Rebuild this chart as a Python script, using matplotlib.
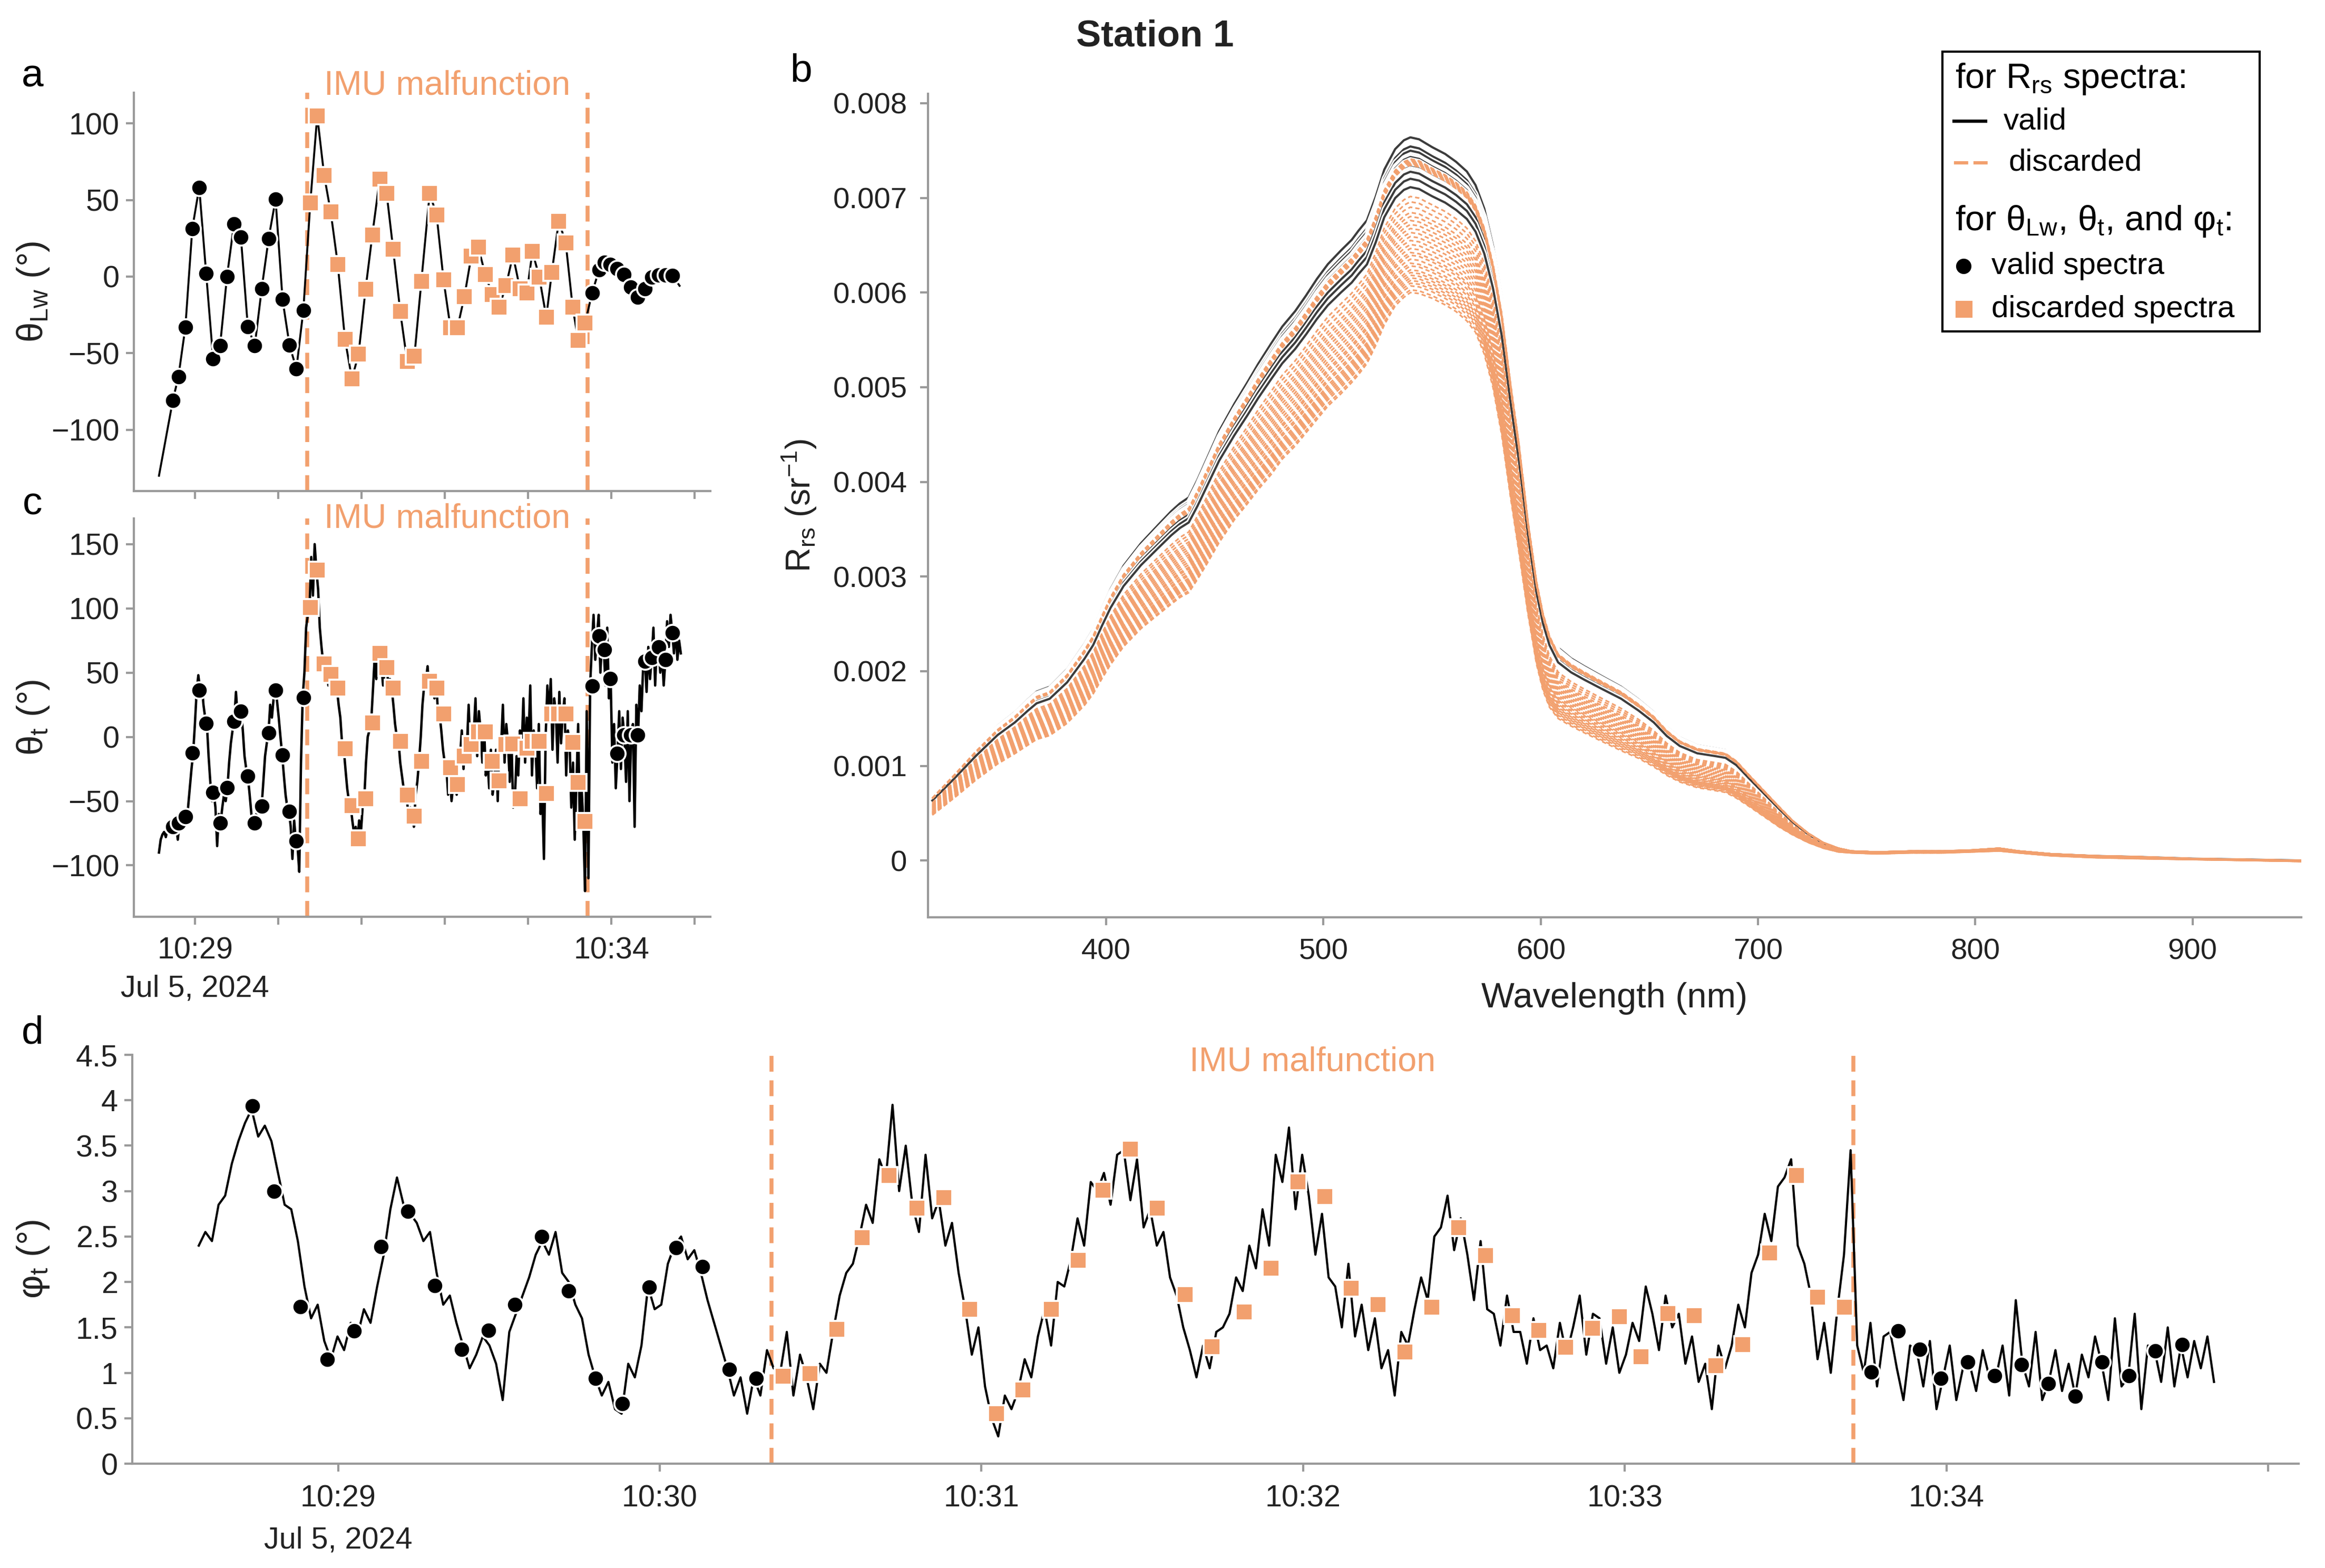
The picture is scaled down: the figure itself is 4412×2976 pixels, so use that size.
import numpy as np
import pandas as pd
import matplotlib
matplotlib.use('Agg')
import matplotlib.pyplot as plt
import matplotlib.dates as mdates
import matplotlib.patheffects as pe
from matplotlib.lines import Line2D
from matplotlib.patches import Rectangle
from matplotlib.ticker import FuncFormatter, MultipleLocator

plt.rcParams['font.family'] = ['Liberation Sans', 'DejaVu Sans']
plt.rcParams['mathtext.fontset'] = 'custom'
plt.rcParams['mathtext.rm'] = 'Liberation Sans'
plt.rcParams['mathtext.it'] = 'Liberation Sans:italic'
plt.rcParams['mathtext.default'] = 'regular'

ORANGE = '#F2A06E'
GREY = '#9a9a9a'
TXT = '#222222'

# ---- data -------------------------------------------------------------
# spectra acquisition times, seconds after 10:28:00 (Jul 5, 2024)
spec_time = [44, 48, 53, 58, 63, 68, 73, 78, 83, 88, 93, 98, 103, 108, 113,
             118, 123, 128, 133, 138,
             143, 148, 153, 157.7, 162.8, 168, 173, 177.8, 182.8, 187.7, 193,
             198, 202.7, 207.8, 212.8, 218, 223, 229, 234, 239, 244, 249, 254,
             259, 264, 269, 274, 279, 284, 289, 294, 299, 303, 308, 313, 317,
             322, 327, 332, 336, 341,
             346, 351, 355, 359, 364, 369, 374, 379, 384, 389, 394, 399, 404]
spec_status = list('VVVVVVVVVVVVVVVVVVVV'
                   'DDDDDDDDDDDDDDDDDDDDDDDDDDDDDDDDDDDDDDDDD'
                   'VVVVVVVVVVVVV')

theta_lw = [-80.7, -65.4, -33.1, 31.4, 58.1, 1.9, -53.6, -45.2, 0.0, 34.2,
            25.8, -32.7, -45.2, -7.9, 24.9, 50.5, -14.8, -44.7, -60.2, -21.9,
            48.2, 104.9, 66.0, 42.2, 8.0, -41.0, -66.7, -50.5, -8.4, 27.3,
            63.6, 54.4, 17.8, -22.8, -55.5, -52.1, -3.2, 54.4, 40.2, -2.2,
            -33.5, -33.5, -13.1, 13.3, 19.3, 1.5, -11.6, -20.0, -6.0, 14.0,
            -7.9, -10.7, 16.4, -0.4, -26.5, 2.8, 36.1, 22.1, -20.0, -41.5,
            -30.3,
            -10.7, 4.3, 9.3, 8.0, 5.2, 1.5, -6.9, -13.5, -7.9, -0.4, 0.9, 0.9,
            0.6]
theta_lw_start = (34, -130)
theta_lw_end = (409, -6)

theta_t = [-70, -67, -62, -12.3, 36.5, 10.4, -43.3, -67.2, -39.7, 12.3, 20,
           -30.7, -67.2, -54, 3.3, 36.5, -14.3, -58.1, -80.9, 30.7,
           100.6, 129.7, 57, 48.5, 37.8, -9, -53.5, -79.5, -48, 11, 65, 54,
           37.8, -3.3, -45.2, -61.7, -19.2, 43.3, 37.8, 17.8, -24.1, -37, -15,
           -6, 4.1, 4.1, -19.2, -34.3, -6, -5.5, -48, -8.8, -3.3, -3.3, -43.9,
           17.8, 17.8, 17.8, -4.1, -35.6, -65.8,
           39.7, 78.7, 68, 45.2, -12.9, 1.4, 1.4, 1.4, 59, 61.7, 70, 60.3,
           80.9]

phi_t = [3.94, 3.00, 1.73, 1.15, 1.46, 2.39, 2.78, 1.96, 1.26, 1.47, 1.75,
         2.50, 1.90, 0.94, 0.66, 1.94, 2.38, 2.17, 1.04, 0.94,
         0.96, 0.99, 1.48, 2.49, 3.17, 2.81, 2.93, 1.70, 0.55, 0.81, 1.70,
         2.24, 3.01, 3.46, 2.81, 1.86, 1.29, 1.67, 2.15, 3.10, 2.94, 1.93,
         1.75, 1.23, 1.72, 2.60, 2.29, 1.63, 1.47, 1.28, 1.49, 1.62, 1.18,
         1.65, 1.63, 1.08, 1.31, 2.32, 3.17, 1.83, 1.72,
         1.01, 1.46, 1.26, 0.94, 1.12, 0.97, 1.09, 0.88, 0.74, 1.12, 0.97,
         1.24, 1.31]

# raw IMU record (1.2325 s sampling starting 34 s after 10:28:00)
raw_t0 = 34.0
raw_dt = 1.2325
theta_t_raw = [-90, -80, -76, -74, -78, -72, -75, -71,
               -70, -73, -68, -80, -67, -65, -70, -63, -62, -55, -40, -25,
               -12, 10, 35, 48, 37, 42, 25, 15, 10, -15, -35, -50,
               -43, -55, -85, -60, -67, -55, -45, -50, -40, -20, -5, 5,
               12, 35, 15, 25, 20, 5, -15, -25, -31, -45, -60, -70,
               -67, -60, -55, -58, -54, -35, -15, -5, 3, 25, 15, 30,
               37, 28, 15, 0, -14, -30, -45, -55, -58, -70, -95, -65,
               -81, -85, -105, -20, 31, 50, 85, 95,
               100, 140, 110, 150, 130, 115, 85, 70, 57, 45, 60, 40,
               48, 55, 35, 50, 38, 25, 15, -5, -9, -25, -40, -50,
               -53, -65, -75, -70, -80, -65, -75, -55, -48, -20, 0, 5,
               11, 35, 60, 45, 65, 50, 55, 40, 54, 60, 40, 45,
               38, 25, 10, 0, -3, -20, -30, -40, -45, -50, -65, -55,
               -62, -70, -45, -35, -19, 0, 25, 40, 43, 55, 35, 45,
               38, 30, 45, 20, 18, 5, -10, -20, -24, -45, -30, -50,
               -37, -20, -45, -10, -15, 5, -25, 0, -6, 25, -10, 10,
               4, 30, -15, 20, 4, -20, 10, -30, -19, -40, -10, -45,
               -34, -10, -50, -5, -6, 25, -20, 10, -5, -35, 0, -55,
               -48, -15, -30, 5, -9, 30, -20, 15, -3, 40, -30, 5,
               -3, -40, 10, -60, -44, -95, 0, 40, 18, 45, -10, 30,
               18, -20, 35, -5, 18, 30, -30, 5, -4, -55, -20, -80,
               -36, 10, -70, -40, -66, -120, 20, -110,
               40, 70, 95, 60, 79, 95, 50, 75, 68, 40, 85, 30,
               45, -20, 10, -40, -13, 20, -25, 15, 1, -35, 20, -50,
               1, 10, -70, 25, 1, 40, 20, 55, 59, 35, 70, 45,
               62, 85, 40, 75, 70, 50, 65, 40, 60, 90, 70, 95,
               81, 65, 85, 60, 75, 65]

phi_t_raw = [2.40, 2.55, 2.45, 2.85, 2.95, 3.30, 3.55, 3.75,
             3.90, 3.60, 3.72, 3.55, 3.20, 2.85, 2.80, 2.45,
             1.95, 1.60, 1.75, 1.35, 1.15, 1.40, 1.25, 1.55,
             1.40, 1.70, 1.55, 1.95, 2.30, 2.80, 3.15, 2.85,
             2.75, 2.65, 2.45, 2.55, 2.10, 1.75, 1.85, 1.55,
             1.30, 1.05, 1.20, 1.40, 1.30, 1.10, 0.70, 1.45,
             1.65, 1.85, 2.05, 2.30, 2.45, 2.30, 2.55, 2.10,
             2.00, 1.75, 1.60, 1.20, 0.95, 0.75, 0.90, 0.60,
             0.55, 1.10, 0.95, 1.30, 1.95, 1.70, 1.75, 2.20,
             2.40, 2.50, 2.25, 2.35, 2.10, 1.80, 1.55, 1.30,
             1.05, 0.75, 0.95, 0.55, 0.95, 0.75, 1.25, 1.05,
             1.00, 1.45, 0.75, 1.20, 0.95, 0.60, 1.10, 1.00,
             1.45, 1.85, 2.10, 2.20, 2.50, 2.85, 2.65, 3.35,
             3.15, 3.95, 3.00, 3.50, 2.85, 2.55, 3.40, 2.70,
             2.90, 2.40, 2.65, 2.10, 1.70, 1.20, 1.50, 0.85,
             0.50, 0.30, 0.75, 0.60, 0.80, 1.15, 0.95, 1.40,
             1.70, 1.30, 2.00, 1.95, 2.25, 2.70, 2.40, 3.10,
             3.00, 3.20, 2.85, 3.40, 3.45, 2.90, 3.35, 2.60,
             2.80, 2.40, 2.55, 2.05, 1.85, 1.50, 1.25, 0.95,
             1.30, 1.05, 1.45, 1.50, 1.65, 2.05, 1.90, 2.40,
             2.15, 2.80, 2.40, 3.40, 3.10, 3.70, 2.80, 3.40,
             2.95, 2.30, 2.75, 2.05, 1.95, 1.50, 2.20, 1.40,
             1.75, 1.25, 1.60, 1.05, 1.25, 0.75, 1.45, 1.30,
             1.70, 2.05, 1.80, 2.50, 2.60, 2.95, 2.35, 2.70,
             2.30, 1.80, 2.45, 1.70, 1.65, 1.30, 1.85, 1.45,
             1.45, 1.10, 1.60, 1.25, 1.30, 1.05, 1.55, 1.20,
             1.50, 1.85, 1.20, 1.65, 1.60, 1.10, 1.50, 1.00,
             1.20, 1.55, 1.35, 1.95, 1.65, 1.25, 1.85, 1.50,
             1.65, 1.10, 1.40, 0.90, 1.10, 0.60, 1.30, 1.05,
             1.30, 1.75, 1.50, 2.10, 2.30, 2.75, 2.45, 3.05,
             3.15, 3.35, 2.40, 2.20, 1.85, 1.15, 1.55, 1.00,
             1.70, 2.30, 3.45, 1.30,
             1.00, 1.55, 0.85, 1.40, 1.45, 1.05, 0.70, 1.30,
             1.25, 0.85, 1.35, 0.60, 0.95, 1.30, 0.70, 1.05,
             1.10, 0.80, 1.25, 0.95, 0.95, 1.30, 0.75, 1.80,
             1.10, 0.85, 1.45, 0.70, 0.90, 1.25, 0.80, 1.10,
             0.75, 1.20, 0.95, 1.40, 1.10, 0.70, 1.60, 0.85,
             0.95, 1.65, 0.60, 1.30, 1.25, 0.90, 1.50, 0.85,
             1.30, 0.95, 1.35, 1.05, 1.40, 0.90]

imu_bad_start = 140.8
imu_bad_end = 342.6

# Rrs spectra: mean valid shape and lowest discarded shape
wavelength = [320, 330, 340, 350, 358, 364, 368, 374, 382, 390, 394, 398, 402,
              408, 416, 424, 430, 434, 438, 442, 446, 452, 459, 465, 470, 476,
              481, 487, 492, 497, 502, 508, 513, 516, 520, 524, 528, 533, 537,
              540, 544, 550, 556, 561, 566, 570, 574, 578, 582, 586, 590, 594,
              598, 601, 604, 608, 614, 620, 628, 637, 645, 652, 658, 664, 672,
              680, 685, 690, 696, 703, 710, 716, 723, 730, 737, 743, 755, 770,
              785, 798, 811, 820, 835, 855, 874, 900, 926, 950]
rrs_valid = [0.00066, 0.00090, 0.00115, 0.00138, 0.00152, 0.00165, 0.00173,
             0.00178, 0.00196, 0.00222, 0.00237, 0.00258, 0.00278, 0.00302,
             0.00325, 0.00344, 0.00358, 0.00366, 0.00372, 0.00390, 0.00410,
             0.00440, 0.00468, 0.00490, 0.00509, 0.00530, 0.00547, 0.00563,
             0.00579, 0.00596, 0.00611, 0.00625, 0.00636, 0.00645, 0.00656,
             0.00680, 0.00708, 0.00729, 0.00738, 0.00741, 0.00739, 0.00731,
             0.00724, 0.00716, 0.00706, 0.00692, 0.00668, 0.00630, 0.00578,
             0.00505, 0.00439, 0.00360, 0.00295, 0.00261, 0.00237, 0.00218,
             0.00207, 0.00199, 0.00189, 0.00178, 0.00165, 0.00152, 0.00137,
             0.00126, 0.00118, 0.00115, 0.00113, 0.00105, 0.00090, 0.00073,
             0.00056, 0.00042, 0.00029, 0.00019, 0.00013, 0.00010, 0.00009,
             0.00010, 0.00010, 0.00011, 0.00013, 0.00010, 0.00007, 0.00005,
             0.00004, 0.00002, 0.00001, 0.00000]
rrs_disc_low = [0.00048, 0.00066, 0.00085, 0.00102, 0.00113, 0.00122, 0.00128,
                0.00132, 0.00145, 0.00164, 0.00176, 0.00192, 0.00207, 0.00226,
                0.00245, 0.00260, 0.00271, 0.00278, 0.00283, 0.00297, 0.00312,
                0.00336, 0.00360, 0.00377, 0.00392, 0.00408, 0.00424, 0.00438,
                0.00452, 0.00466, 0.00480, 0.00493, 0.00505, 0.00513, 0.00525,
                0.00544, 0.00566, 0.00586, 0.00595, 0.00600, 0.00599, 0.00594,
                0.00587, 0.00580, 0.00570, 0.00558, 0.00535, 0.00500, 0.00450,
                0.00385, 0.00325, 0.00262, 0.00208, 0.00180, 0.00162, 0.00150,
                0.00142, 0.00135, 0.00126, 0.00116, 0.00108, 0.00099, 0.00090,
                0.00083, 0.00077, 0.00074, 0.00072, 0.00066, 0.00057, 0.00046,
                0.00035, 0.00027, 0.00019, 0.00013, 0.00009, 0.00008, 0.00007,
                0.00008, 0.00008, 0.00009, 0.00010, 0.00008, 0.00005, 0.00003,
                0.00002, 0.00001, 0.00000, -0.00001]
valid_level = [1.031, 1.018, 1.012, 1.006, 1.004, 1.002, 1.0, 0.999, 0.998,
               0.997, 0.996, 0.995, 0.994, 0.993, 0.992, 0.991, 0.99, 0.989,
               0.988, 0.987, 1.001, 1.003, 0.999, 0.997, 0.995, 0.993, 0.991,
               0.989, 0.986, 0.984, 0.982, 0.972, 0.96]
disc_drop = [0.0, 0.01, 0.02, 0.0, 0.03, 0.015, 0.04, 0.005, 0.025, 0.035,
             0.01, 0.045, 0.02, 0.03,
             0.28, 0.32, 0.36, 0.4, 0.43, 0.46, 0.49, 0.52, 0.55, 0.58, 0.61,
             0.64, 0.67, 0.7, 0.72, 0.75, 0.78, 0.8, 0.83, 0.85, 0.87, 0.89,
             0.91, 0.93, 0.95, 0.98, 1.0]

# ---- helpers ----------------------------------------------------------
T0 = pd.Timestamp('2024-07-05 10:28:00')


def to_time(sec):
    return (T0 + pd.to_timedelta(np.asarray(sec, dtype=float), unit='s')).to_numpy()


def style(ax, size=13.8):
    for s in ['top', 'right']:
        ax.spines[s].set_visible(False)
    for s in ['left', 'bottom']:
        ax.spines[s].set_color(GREY)
        ax.spines[s].set_linewidth(1.0)
    ax.tick_params(colors=GREY, labelcolor=TXT, length=3.5, width=1.0,
                   labelsize=size, pad=3)


def hm(x):
    return mdates.num2date(x + 1e-7).strftime('%H:%M')


def fmt_none(x, pos):
    return ''


def fmt_c(x, pos):
    s = hm(x)
    if s == '10:29':
        return '10:29\nJul 5, 2024'
    if s == '10:34':
        return s
    return ''


def fmt_d(x, pos):
    s = hm(x)
    if s == '10:29':
        return '10:29\nJul 5, 2024'
    if s == '10:35':
        return ''
    return s


spec_t = to_time(spec_time)
valid = np.array([s == 'V' for s in spec_status])
disc = ~valid
raw_t = to_time(raw_t0 + raw_dt * np.arange(len(phi_t_raw)))


def imu_overlay(ax, ytext):
    for tt in (imu_bad_start, imu_bad_end):
        ax.axvline(to_time([tt])[0], color=ORANGE, lw=1.8,
                   linestyle=(0, (4, 2.2)), zorder=1)
    mid = to_time([(imu_bad_start + imu_bad_end) / 2])[0]
    ax.text(mid, ytext, 'IMU malfunction', color=ORANGE, fontsize=15.5,
            ha='center', va='center',
            transform=ax.get_xaxis_transform(), clip_on=False)


def markers(ax, vals):
    vals = np.asarray(vals)
    ax.plot(spec_t[valid], vals[valid], 'o', color='black', ms=7.5,
            mec='white', mew=0.9, zorder=4)
    ax.plot(spec_t[disc], vals[disc], 's', color=ORANGE, ms=7.5,
            mec='white', mew=0.9, zorder=4)


W, H = 4412, 2976


def box(l, t, r, b):
    return [l / W, 1 - b / H, (r - l) / W, (b - t) / H]


fig = plt.figure(figsize=(W / 300, H / 300), dpi=300)
fig.patch.set_facecolor('white')

ax_a = fig.add_axes(box(254, 176, 1348, 932))
ax_c = fig.add_axes(box(254, 984, 1348, 1740))
ax_b = fig.add_axes(box(1761, 178, 4367, 1741))
ax_d = fig.add_axes(box(251, 2002, 4362, 2778))

# ---- panel a ----------------------------------------------------------
lw_t = to_time([theta_lw_start[0]] + list(spec_time) + [theta_lw_end[0]])
lw_v = [theta_lw_start[1]] + list(theta_lw) + [theta_lw_end[1]]
ax_a.plot(lw_t, lw_v, color='black', lw=0.9, zorder=2)
markers(ax_a, theta_lw)
imu_overlay(ax_a, 1.018)
ax_a.set_ylim(-140, 120)
ax_a.yaxis.set_major_locator(MultipleLocator(50))
ax_a.set_ylabel(r'θ$_{\mathrm{Lw}}$ (°)', fontsize=16.5, color=TXT)
ax_a.yaxis.set_label_coords(-0.1435, 0.5)

# ---- panel c ----------------------------------------------------------
ax_c.plot(raw_t, theta_t_raw, color='black', lw=1.1, zorder=2)
markers(ax_c, theta_t)
imu_overlay(ax_c, 1.0)
ax_c.set_ylim(-140, 170)
ax_c.yaxis.set_major_locator(MultipleLocator(50))
ax_c.set_ylabel(r'θ$_{\mathrm{t}}$ (°)', fontsize=16.5, color=TXT)
ax_c.yaxis.set_label_coords(-0.1435, 0.5)

for ax, f in ((ax_a, fmt_none), (ax_c, fmt_c)):
    style(ax)
    ax.set_xlim(to_time([15.9])[0], to_time([431.2])[0])
    ax.xaxis.set_major_locator(mdates.MinuteLocator())
    ax.xaxis.set_major_formatter(FuncFormatter(f))
ax_c.tick_params(axis='x', pad=5.5)
for lab in ax_c.get_xticklabels():
    lab.set_linespacing(1.42)

# ---- panel d ----------------------------------------------------------
ax_d.plot(raw_t, phi_t_raw, color='black', lw=1.0, zorder=2)
markers(ax_d, phi_t)
imu_overlay(ax_d, 0.983)
style(ax_d)
ax_d.tick_params(axis='x', pad=6)
ax_d.set_xlim(to_time([21.6])[0], to_time([425.7])[0])
ax_d.set_ylim(0, 4.5)
ax_d.yaxis.set_major_locator(MultipleLocator(0.5))
ax_d.yaxis.set_major_formatter(FuncFormatter(lambda v, p: '%g' % v))
ax_d.xaxis.set_major_locator(mdates.MinuteLocator())
ax_d.xaxis.set_major_formatter(FuncFormatter(fmt_d))
ax_d.set_ylabel(r'φ$_{\mathrm{t}}$ (°)', fontsize=16.5, color=TXT)
ax_d.yaxis.set_label_coords(-0.0375, 0.5)
for lab in ax_d.get_xticklabels():
    lab.set_linespacing(1.6)

# ---- panel b ----------------------------------------------------------
wl = np.asarray(wavelength)
rv = np.asarray(rrs_valid)
rd = np.asarray(rrs_disc_low)
halo = [pe.Stroke(linewidth=2.4, foreground='white'), pe.Normal()]
for lev in valid_level:
    ax_b.plot(wl, rv * lev, color='#3c3c3c', lw=1.0, zorder=2,
              path_effects=halo)
for w in disc_drop:
    ax_b.plot(wl, (1 - w) * rv + w * rd, color=ORANGE, lw=0.75,
              dashes=(2.6, 1.8), zorder=3)
style(ax_b, size=13.5)
ax_b.tick_params(pad=6)
ax_b.set_xlim(318, 950)
ax_b.set_ylim(-0.0006, 0.0081)
ax_b.xaxis.set_major_locator(MultipleLocator(100))
ax_b.yaxis.set_major_locator(MultipleLocator(0.001))
ax_b.yaxis.set_major_formatter(
    FuncFormatter(lambda v, p: '0' if abs(v) < 1e-9 else '%.3f' % v))
ax_b.set_xlabel('Wavelength (nm)', fontsize=16, color=TXT)
ax_b.xaxis.set_label_coords(0.5, -0.079)
ax_b.set_ylabel(r'R$_{\mathrm{rs}}$ (sr$^{-1}$)', fontsize=15.5, color=TXT)
ax_b.yaxis.set_label_coords(-0.08, 0.5)

# ---- legend (drawn in figure pixels) -----------------------------------


def fx(px):
    return px / W


def fy(py):
    return 1 - py / H


fig.add_artist(Rectangle((fx(3686), fy(629)), (4288 - 3686) / W,
                         (629 - 98) / H, transform=fig.transFigure,
                         facecolor='white', edgecolor='black', lw=1.0,
                         zorder=10))
fig.text(fx(3710), fy(150), r'for R$_{\mathrm{rs}}$ spectra:', fontsize=16,
         va='center', ha='left', zorder=11)
fig.add_artist(Line2D([fx(3708), fx(3768)], [fy(230), fy(230)],
                      color='black', lw=1.5, zorder=11))
fig.text(fx(3802), fy(230), 'valid', fontsize=14, va='center', zorder=11)
fig.add_artist(Line2D([fx(3708), fx(3779)], [fy(309), fy(309)],
                      color=ORANGE, lw=1.5, dashes=(4.3, 1.6), zorder=11))
fig.text(fx(3811), fy(309), 'discarded', fontsize=14, va='center', zorder=11)
fig.text(fx(3710), fy(420),
         r'for θ$_{\mathrm{Lw}}$, θ$_{\mathrm{t}}$, and φ$_{\mathrm{t}}$:',
         fontsize=16, va='center', ha='left', zorder=11)
fig.add_artist(Line2D([fx(3726)], [fy(505)], marker='o', color='black',
                      ms=6, lw=0, zorder=11))
fig.text(fx(3779), fy(505), 'valid spectra', fontsize=14, va='center',
         zorder=11)
fig.add_artist(Line2D([fx(3727)], [fy(587)], marker='s', color=ORANGE,
                      ms=6.5, lw=0, zorder=11))
fig.text(fx(3779), fy(587), 'discarded spectra', fontsize=14, va='center',
         zorder=11)

# ---- titles / panel letters --------------------------------------------
fig.text(fx(2192), fy(70), 'Station 1', fontsize=17, fontweight='bold',
         ha='center', va='center', color=TXT)
for letter, (px, py) in {'a': (62, 145), 'b': (1520, 135), 'c': (62, 957),
                         'd': (62, 1961)}.items():
    fig.text(fx(px), fy(py), letter, fontsize=18, ha='center', va='center',
             color='black')

fig.savefig('out.png', dpi=300, facecolor='white')
